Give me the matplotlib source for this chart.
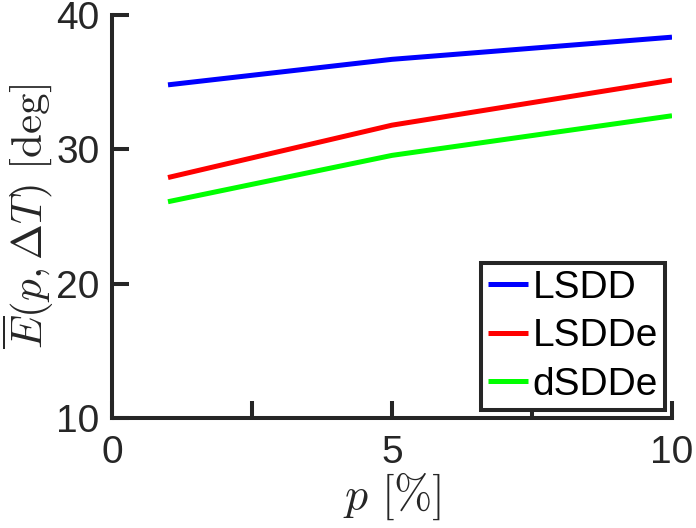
import matplotlib
matplotlib.use("Agg")
import matplotlib.pyplot as plt

p = [1, 5, 10]
lsdd = [34.8, 36.7, 38.35]
lsdde = [27.9, 31.8, 35.15]
dsdde = [26.1, 29.55, 32.5]
labels = ["LSDD", "LSDDe", "dSDDe"]
colors = ["#0000ff", "#ff0000", "#00ff00"]
xticks = [0, 2.5, 5, 7.5, 10]
xticklabels = ["0", "", "5", "", "10"]
yticks = [10, 20, 30, 40]

plt.rcParams['font.family'] = ['Liberation Sans', 'DejaVu Sans']
plt.rcParams['mathtext.fontset'] = 'cm'
dark = "#262626"

fig = plt.figure(figsize=(6.96, 5.28), dpi=100)
ax = fig.add_axes([112/696, 1 - 418/528, (672-112)/696, (418-15)/528])

for y, lab, c in zip([lsdd, lsdde, dsdde], labels, colors):
    ax.plot(p, y, color=c, lw=3.6, label=lab, solid_capstyle='butt')

ax.set_xlim(0, 10)
ax.set_ylim(10, 40)
ax.set_xticks(xticks)
ax.set_xticklabels(xticklabels)
ax.set_yticks(yticks)
for s in ['top', 'right']:
    ax.spines[s].set_visible(False)
for s in ['left', 'bottom']:
    ax.spines[s].set_linewidth(2.9)
    ax.spines[s].set_color(dark)
ax.tick_params(direction='in', length=12.5, width=2.9, colors=dark,
               labelsize=28)
ax.tick_params(axis='x', pad=12)
ax.tick_params(axis='y', pad=9)

ax.set_xlabel(r"$p\ [\%]$", fontsize=33, color=dark, labelpad=0)
ax.set_ylabel(r"$\overline{E}(p,\Delta T)\ [\mathrm{deg}]$", fontsize=31,
              color=dark)
ax.yaxis.set_label_coords((56 - 112) / 560, 0.5)

leg = ax.legend(loc='lower right', bbox_to_anchor=(0.9875, 0.02),
                borderaxespad=0, fontsize=28, handlelength=1.03,
                handletextpad=0.13, labelspacing=0.32, borderpad=0.18,
                fancybox=False, framealpha=1, edgecolor=dark)
leg.get_frame().set_linewidth(2.9)
for t in leg.get_texts():
    t.set_color('black')

fig.savefig("out.png", dpi=100)
